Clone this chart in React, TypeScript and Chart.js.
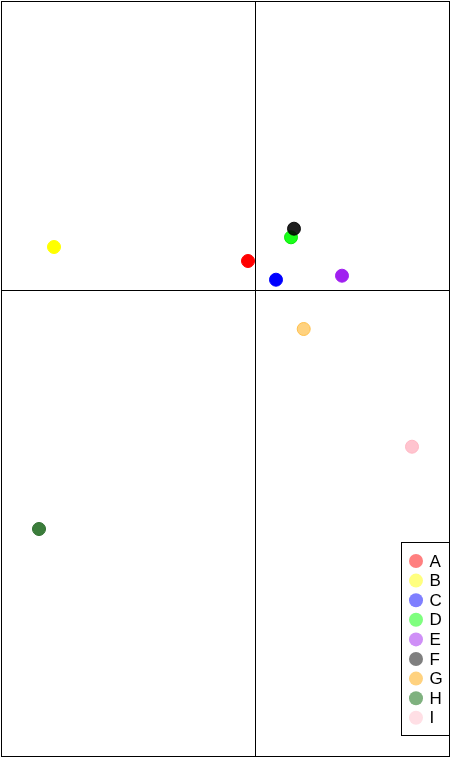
import React, { useEffect, useRef } from "react";
import { Chart, registerables } from "chart.js";

Chart.register(...registerables);

const labels = ["A", "B", "C", "D", "E", "F", "G", "H", "I"];
const xValues = [-0.075, -2.015, 0.205, 0.355, 0.865, 0.385, 0.482, -2.165, 1.565];
const yValues = [0.295, 0.435, 0.108, 0.532, 0.148, 0.618, -0.385, -2.385, -1.562];
const pointColors = [
  "#ff0000",
  "#ffff00",
  "#0000ff",
  "rgba(0,255,0,0.9)",
  "#a020f0",
  "rgba(0,0,0,0.88)",
  "#ffd27f",
  "#3b7d3b",
  "#ffc4cf",
];
const pointBorders = [
  "#ff0000",
  "#ffff00",
  "#0000ff",
  "rgba(0,230,0,0.9)",
  "#a020f0",
  "rgba(0,0,0,0.88)",
  "#ffc04c",
  "#2f6f2f",
  "#ffb8c4",
];
const legendColors = [
  "#ff7f7f",
  "#ffff7f",
  "#7f7fff",
  "#7fff7f",
  "#cf8ff7",
  "#7f7f7f",
  "#ffd27f",
  "#7fb17f",
  "#ffdfe5",
];
const xRange = [-2.545, 1.945];
const yRange = [-4.665, 2.895];

const framePlugin = {
  id: "frameAxes",
  beforeDatasetsDraw(chart: any) {
    const { ctx, chartArea: a, scales } = chart;
    ctx.save();
    ctx.strokeStyle = "#000";
    ctx.lineWidth = 1;
    ctx.strokeRect(a.left + 0.5, a.top + 0.5, a.right - a.left - 1, a.bottom - a.top - 1);
    const x0 = Math.floor(scales.x.getPixelForValue(0)) + 0.5;
    const y0 = Math.floor(scales.y.getPixelForValue(0)) + 0.5;
    ctx.beginPath();
    ctx.moveTo(x0, a.top);
    ctx.lineTo(x0, a.bottom);
    ctx.moveTo(a.left, y0);
    ctx.lineTo(a.right, y0);
    ctx.stroke();
    ctx.restore();
  },
  afterDraw(chart: any) {
    const { ctx, chartArea: a } = chart;
    const right = a.right - 0.5;
    const left = right - 48;
    const bottom = a.bottom - 22 + 0.5;
    const top = bottom - 193;
    ctx.save();
    ctx.fillStyle = "#fff";
    ctx.fillRect(left, top, right - left, bottom - top);
    ctx.strokeStyle = "#000";
    ctx.lineWidth = 1;
    ctx.strokeRect(left, top, right - left, bottom - top);
    ctx.font = '17px "Liberation Sans", Arial, sans-serif';
    ctx.textBaseline = "middle";
    ctx.textAlign = "left";
    labels.forEach((lab, i) => {
      const cy = top + 18.5 + i * 19.6;
      ctx.beginPath();
      ctx.arc(left + 14.5, cy, 7, 0, Math.PI * 2);
      ctx.fillStyle = legendColors[i];
      ctx.fill();
      ctx.fillStyle = "#000";
      ctx.fillText(lab, left + 28, cy + 1);
    });
    ctx.restore();
  },
};

export default function App() {
  const ref = useRef<HTMLCanvasElement | null>(null);
  useEffect(() => {
    if (!ref.current) return;
    const chart = new Chart(ref.current, {
      type: "scatter",
      data: {
        datasets: [
          {
            label: "points",
            data: xValues.map((x, i) => ({ x, y: yValues[i] })),
            backgroundColor: pointColors,
            borderColor: pointBorders,
            borderWidth: 1,
            pointRadius: 6.5,
          },
        ],
      },
      options: {
        animation: false,
        responsive: false,
        devicePixelRatio: 1,
        layout: { autoPadding: false, padding: { left: 1, top: 1, right: 2, bottom: 2 } },
        plugins: { legend: { display: false }, tooltip: { enabled: false } },
        scales: {
          x: { type: "linear", display: false, min: xRange[0], max: xRange[1] },
          y: { type: "linear", display: false, min: yRange[0], max: yRange[1] },
        },
      },
      plugins: [framePlugin],
    });
    return () => chart.destroy();
  }, []);
  return (
    <div style={{ position: "fixed", left: 0, top: 0, width: 452, height: 759, background: "#fff" }}>
      <canvas ref={ref} width={452} height={759} style={{ display: "block" }} />
    </div>
  );
}
